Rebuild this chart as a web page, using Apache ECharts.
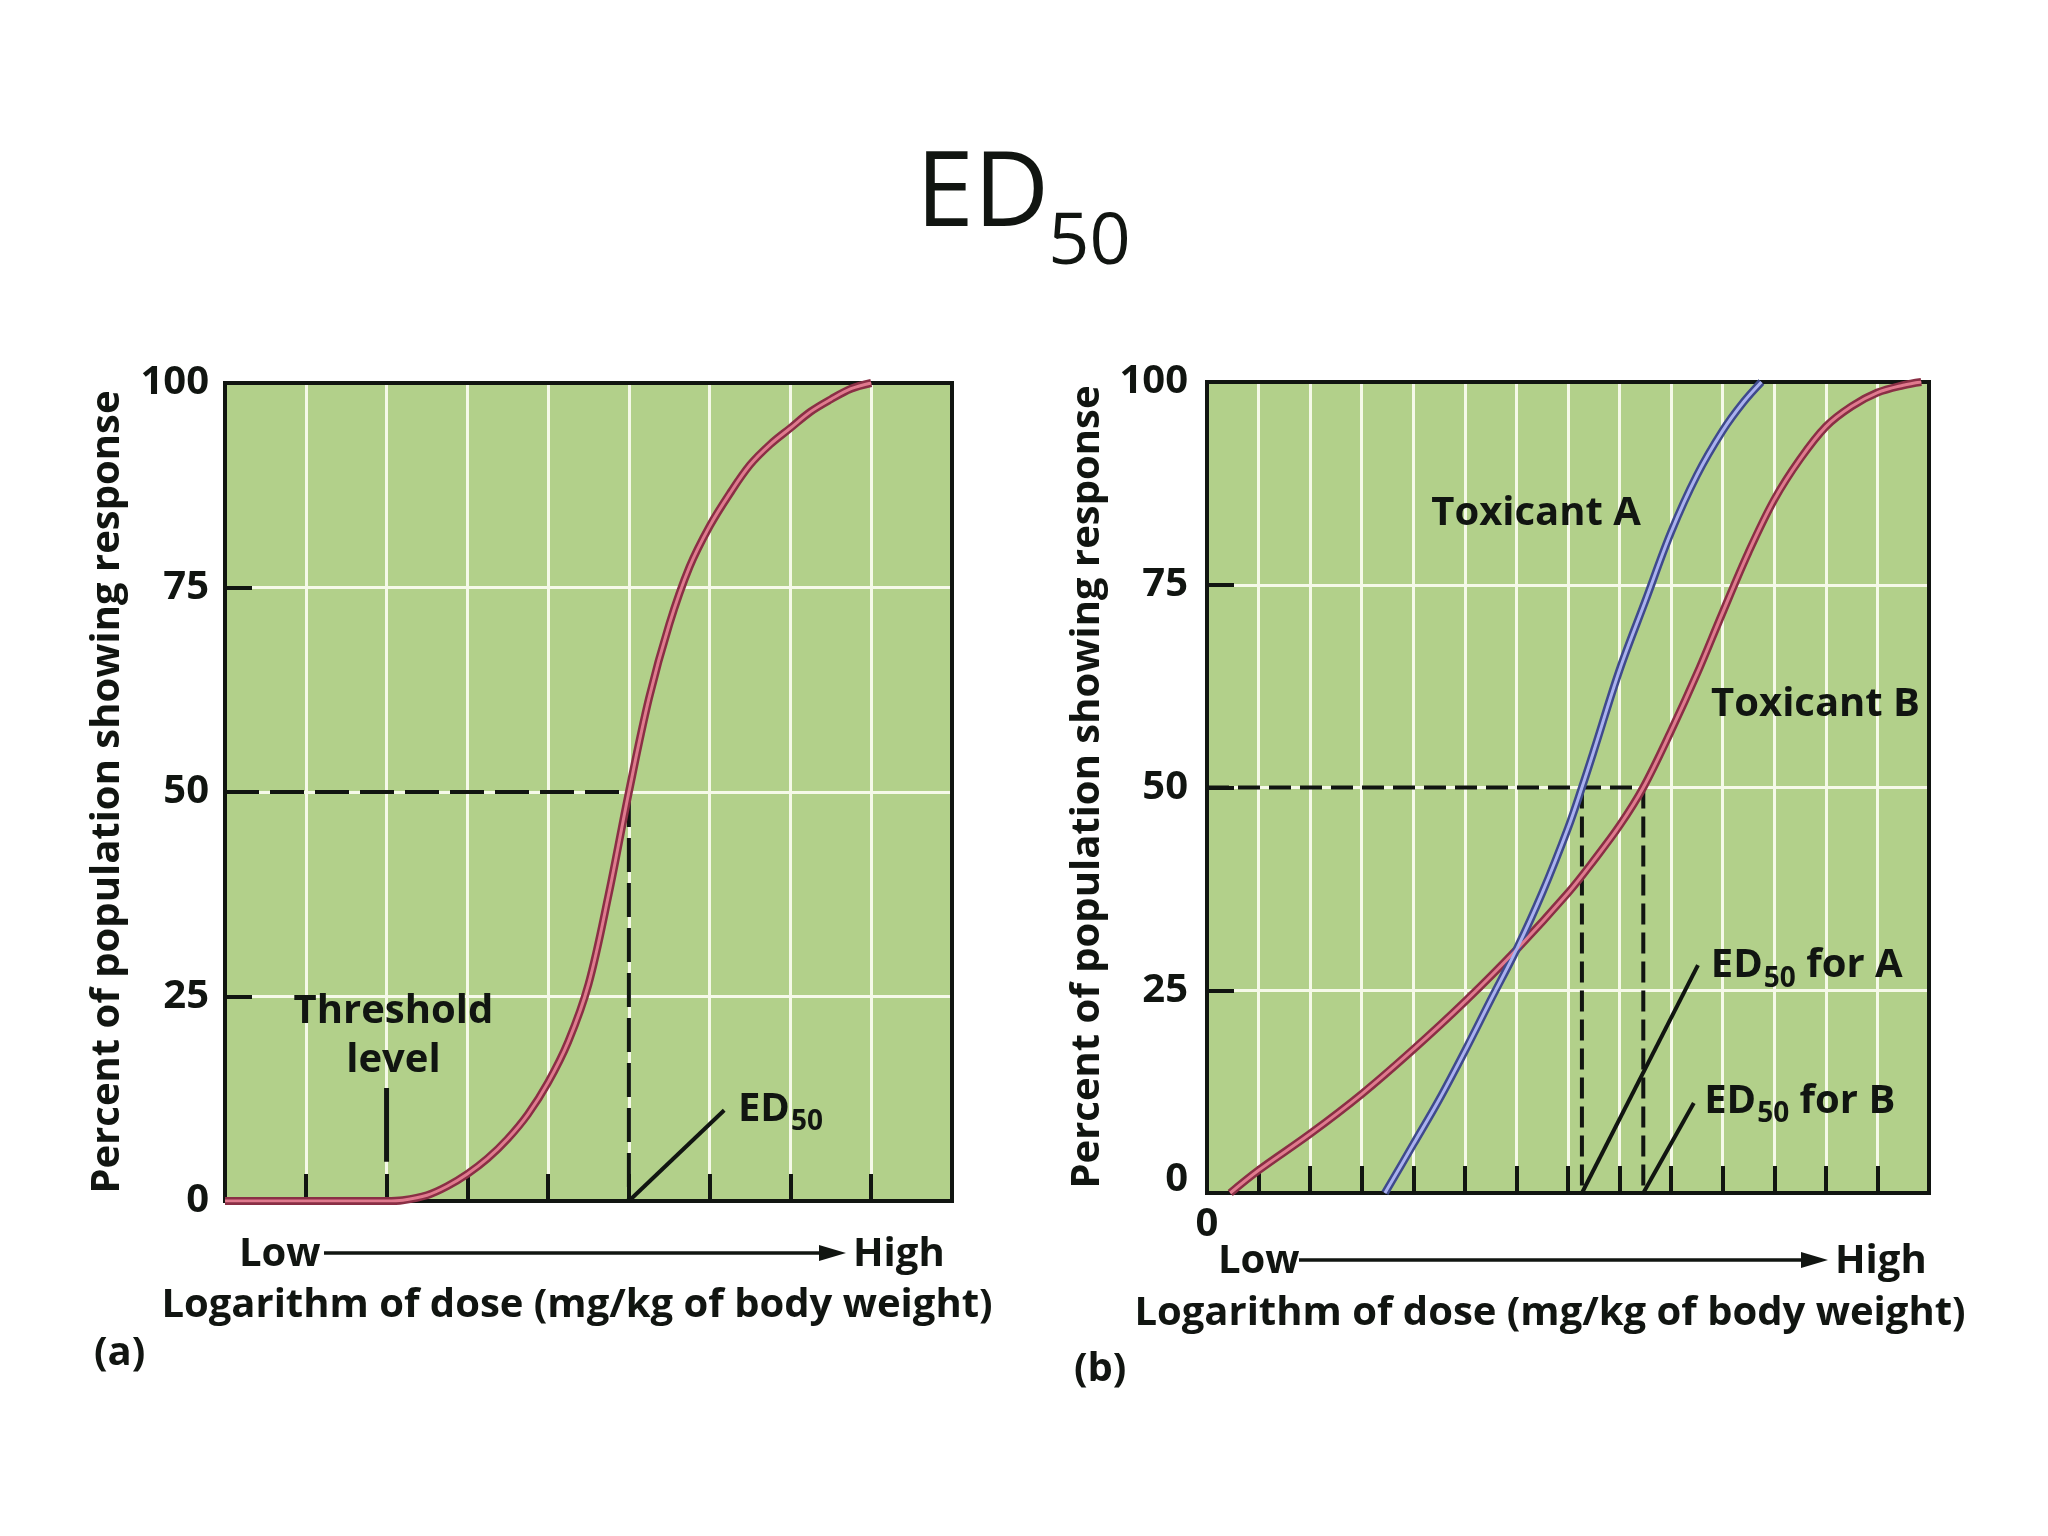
<!DOCTYPE html>
<html>
<head>
<meta charset="utf-8">
<script src="https://cdn.jsdelivr.net/npm/echarts@6/dist/echarts.min.js"></script>
<style>
html,body{margin:0;padding:0;background:#ffffff;}
#chart{width:2048px;height:1536px;}
</style>
</head>
<body>
<div id="chart"></div>
<script>
// ---------------- DATA ----------------
const yTickValues = [0, 25, 50, 75, 100];
const doseUnitsA = 9;      // panel (a): 9 dose grid columns
const doseUnitsB = 14;     // panel (b): 14 dose grid columns

// Panel (a): single dose-response curve
const curveDose = [0, 1, 2, 2.2, 2.5, 2.75, 3, 3.25, 3.5, 3.75, 4, 4.25, 4.5, 4.75, 5, 5.25, 5.5, 5.75, 6, 6.25, 6.5, 6.75, 7, 7.25, 7.5, 7.75, 8];
const curveResp = [0, 0, 0, 0.1, 0.7, 1.8, 3.3, 5.2, 7.6, 10.6, 14.5, 19.5, 26.5, 37.5, 50, 61.5, 70.5, 77.5, 82.5, 86.5, 90, 92.5, 94.5, 96.5, 98, 99.3, 100];
const ed50Dose = 5;
const ed50Resp = 50;
const thresholdDose = 2;
const thresholdMark = [4.8, 13.8];

// Panel (b): two toxicants
const toxADose = [3.45, 4, 4.5, 5, 5.5, 6, 6.5, 7, 7.27, 7.5, 8, 8.5, 9, 9.5, 10, 10.4, 10.75];
const toxAResp = [0, 6, 11.5, 17.5, 23.8, 30, 37, 45, 50, 54.5, 64.5, 73, 81.5, 88.5, 94, 97.5, 100];
const toxBDose = [0.45, 1, 2, 3, 4, 5, 6, 7, 7.5, 8, 8.46, 9, 9.5, 10, 10.5, 11, 11.5, 12, 12.5, 13, 13.5, 13.85];
const toxBResp = [0, 2.8, 7.3, 12.2, 17.7, 23.6, 30, 37, 41, 45.3, 50, 57, 64, 71.6, 79, 85.5, 90.5, 94.5, 97, 98.7, 99.6, 100];
const ed50A = 7.27;
const ed50B = 8.46;

// ---------------- STYLE ----------------
const FONT = '"Open Sans", "Noto Sans", sans-serif';
const INK = '#111511';
const GREEN = '#b2d08a';
const GRIDC = '#f5f9e8';
const RED_OUT = '#8a2f45', RED_IN = '#e07a8e';
const BLUE_OUT = '#3f4a8c', BLUE_IN = '#aab1f0';
const FS = 40;

const pairs = (xs, ys) => xs.map((x, i) => [x, ys[i]]);

function mkX(gi, max, showZero) {
  return {
    type: 'value', gridIndex: gi, min: 0, max: max, interval: 1,
    axisLine: {show: true, onZero: false, lineStyle: {color: INK, width: 4}},
    axisTick: {show: true, inside: true, length: 27, lineStyle: {color: INK, width: 4}},
    axisLabel: {show: showZero, margin: 12, color: INK, fontFamily: FONT, fontWeight: 'bold', fontSize: FS,
      formatter: v => (v === 0 ? '0' : '')},
    splitLine: {show: true, lineStyle: {color: GRIDC, width: 3}}
  };
}
function mkY(gi, margin, liftZero) {
  return {
    type: 'value', gridIndex: gi, min: yTickValues[0], max: yTickValues[yTickValues.length - 1],
    interval: yTickValues[1] - yTickValues[0],
    axisLine: {show: true, onZero: false, lineStyle: {color: INK, width: 4}},
    axisTick: {show: true, inside: true, length: 27, lineStyle: {color: INK, width: 4}},
    axisLabel: {margin: margin, color: INK, fontFamily: FONT, fontWeight: 'bold', fontSize: FS,
      formatter: v => (liftZero && v === 0 ? '{z|0}' : String(v)),
      rich: {z: {fontFamily: FONT, fontWeight: 'bold', fontSize: FS, color: INK, padding: [0, 0, 26, 0]}}},
    splitLine: {show: true, lineStyle: {color: GRIDC, width: 3}}
  };
}
function curve(gi, xs, ys, outer, inner) {
  const base = {type: 'line', xAxisIndex: gi, yAxisIndex: gi, data: pairs(xs, ys), smooth: 0.35,
    symbol: 'none', silent: true, animation: false};
  return [
    Object.assign({}, base, {z: 6, lineStyle: {color: outer, width: 8}}),
    Object.assign({}, base, {z: 7, lineStyle: {color: inner, width: 3}})
  ];
}
function seg(gi, pts, dash, width) {
  return {type: 'line', xAxisIndex: gi, yAxisIndex: gi, data: pts, symbol: 'none', silent: true,
    z: 4, animation: false, lineStyle: {color: INK, width: width || 4, type: dash || 'solid', cap: 'butt'}};
}

const series = [].concat(
  // panel (a)
  seg(0, [[0, ed50Resp], [ed50Dose, ed50Resp], [ed50Dose, 0]], [34, 11], 4),
  seg(0, [[thresholdDose, thresholdMark[0]], [thresholdDose, thresholdMark[1]]], 'solid', 5),
  seg(0, [[ed50Dose, 0], [6.18, 11.1]], 'solid', 4),
  curve(0, curveDose, curveResp, RED_OUT, RED_IN),
  // panel (b)
  seg(1, [[0, 50], [ed50B, 50]], [22, 9], 4),
  seg(1, [[ed50A, 50], [ed50A, 0]], [21, 8], 4),
  seg(1, [[ed50B, 50], [ed50B, 0]], [21, 8], 4),
  seg(1, [[ed50A, 0], [9.52, 28.1]], 'solid', 4),
  seg(1, [[ed50B, 0], [9.44, 11.1]], 'solid', 4),
  curve(1, toxBDose, toxBResp, RED_OUT, RED_IN),
  curve(1, toxADose, toxAResp, BLUE_OUT, BLUE_IN)
);

const chart = echarts.init(document.getElementById('chart'), null, {renderer: 'canvas'});
chart.setOption({
  animation: false,
  backgroundColor: '#ffffff',
  grid: [
    {left: 225, top: 383, width: 727, height: 818, show: true, backgroundColor: GREEN, borderWidth: 0, outerBoundsMode: 'none'},
    {left: 1207, top: 382, width: 722, height: 811, show: true, backgroundColor: GREEN, borderWidth: 0, outerBoundsMode: 'none'}
  ],
  xAxis: [mkX(0, doseUnitsA, false), mkX(1, doseUnitsB, true)],
  yAxis: [mkY(0, 16, false), mkY(1, 19, true)],
  series: series
});

// ---------------- ANNOTATIONS ----------------
const mctx = document.createElement('canvas').getContext('2d');
const tw = (s, f) => { mctx.font = f; return mctx.measureText(s).width; };
const bold = s => `bold ${s}px ${FONT}`;
const P = (gi, x, y) => chart.convertToPixel({gridIndex: gi}, [x, y]);
const G = [];
function txt(x, y, s, font, align, rot) {
  G.push({type: 'text', x: x, y: y, rotation: rot || 0, z: 50, silent: true,
    style: {text: s, font: font, fill: INK, textAlign: align || 'left', textVerticalAlign: 'middle',
      align: align || 'left', verticalAlign: 'middle'}});
}
function edLabel(x, y, tail, size) {
  const fm = bold(size), fsub = bold(Math.round(size * 0.7));
  txt(x, y, 'ED', fm);
  const w1 = tw('ED', fm) + 1;
  txt(x + w1, y + size * 0.32, '50', fsub);
  if (tail) txt(x + w1 + tw('50', fsub), y, tail, fm);
}
function arrow(x1, x2, y) {
  G.push({type: 'line', z: 50, silent: true, shape: {x1: x1, y1: y, x2: x2 - 20, y2: y}, style: {stroke: INK, lineWidth: 3.5}});
  G.push({type: 'polygon', z: 50, silent: true, shape: {points: [[x2, y], [x2 - 27, y - 8], [x2 - 27, y + 8]]}, style: {fill: INK}});
}
function border(gi, xmax) {
  const a = P(gi, 0, 100), b = P(gi, xmax, 0);
  G.push({type: 'rect', z: 1, silent: true, shape: {x: a[0], y: a[1], width: b[0] - a[0], height: b[1] - a[1]},
    style: {fill: 'none', stroke: INK, lineWidth: 4}});
}
border(0, doseUnitsA);
border(1, doseUnitsB);

// title
txt(916, 196, 'ED', `104px ${FONT}`);
txt(916 + tw('ED', `104px ${FONT}`) - 1, 243, '50', `72px ${FONT}`);

// panel (a) texts
let p = P(0, 2.085, 23.1); txt(p[0], p[1], 'Threshold', bold(FS), 'center');
p = P(0, 2.085, 17.2); txt(p[0], p[1], 'level', bold(FS), 'center');
p = P(0, 6.35, 11.2); edLabel(p[0], p[1], '', FS);
txt(108, 792, 'Percent of population showing response', bold(FS), 'center', Math.PI / 2);
txt(239, 1255, 'Low', bold(FS));
arrow(324, 846, 1253);
txt(853, 1255, 'High', bold(FS));
txt(577, 1306, 'Logarithm of dose (mg/kg of body weight)', bold(FS), 'center');
txt(94, 1354, '(a)', bold(FS));

// panel (b) texts
p = P(1, 6.38, 83.8); txt(p[0], p[1], 'Toxicant A', bold(FS), 'center');
p = P(1, 11.8, 60.2); txt(p[0], p[1], 'Toxicant B', bold(FS), 'center');
p = P(1, 9.77, 28.0); edLabel(p[0], p[1], ' for A', FS);
p = P(1, 9.64, 11.3); edLabel(p[0], p[1], ' for B', FS);
txt(1088, 787, 'Percent of population showing response', bold(FS), 'center', Math.PI / 2);
txt(1218, 1262, 'Low', bold(FS));
arrow(1299, 1828, 1260);
txt(1835, 1262, 'High', bold(FS));
txt(1550, 1314, 'Logarithm of dose (mg/kg of body weight)', bold(FS), 'center');
txt(1074, 1370, '(b)', bold(FS));

chart.setOption({graphic: {elements: G}});
</script>
</body>
</html>
